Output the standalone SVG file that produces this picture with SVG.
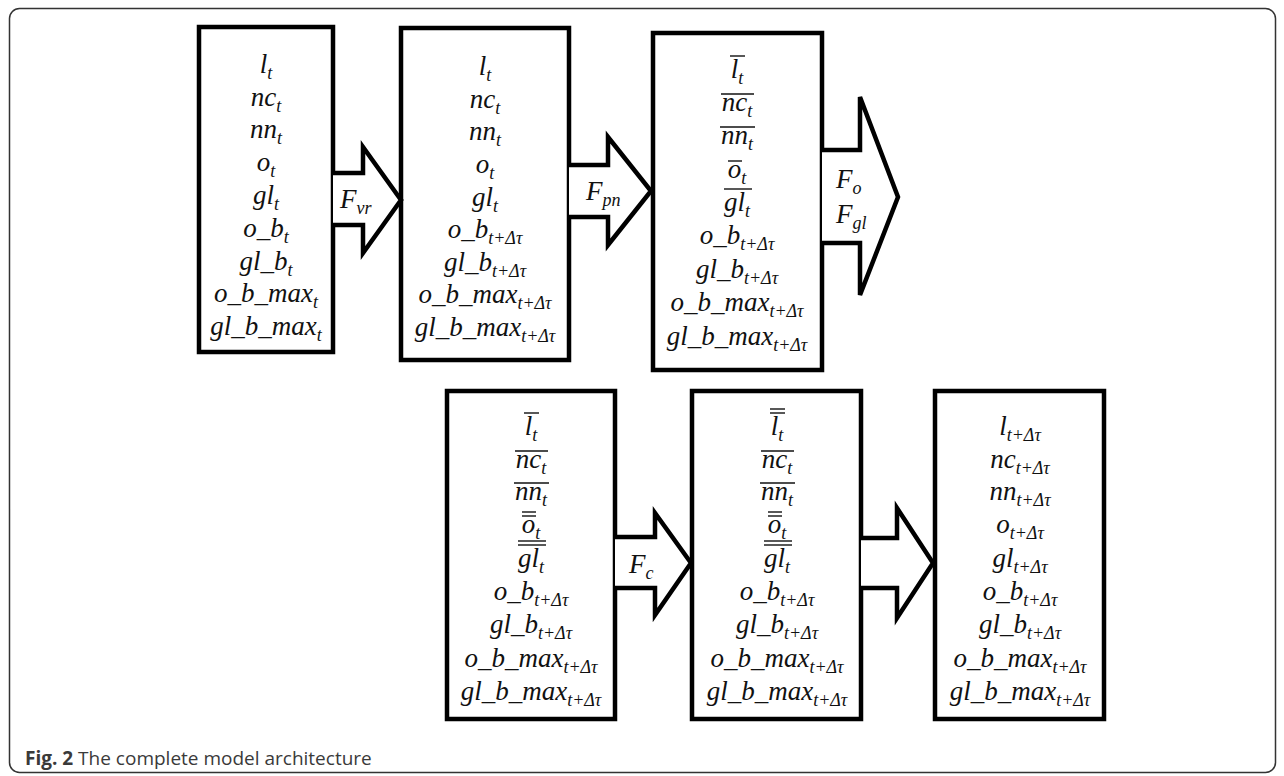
<svg xmlns="http://www.w3.org/2000/svg" width="1284" height="776" viewBox="0 0 1284 776">
<style>
.frame{fill:#fff;stroke:#333;stroke-width:1.5}
.box{fill:#fff;stroke:#000;stroke-width:4.5}
.arr{fill:#fff;stroke:#000;stroke-width:4.5;stroke-linejoin:miter}
.m{font-family:"Liberation Serif",serif;font-style:italic;font-size:27px;fill:#111;text-anchor:middle}
.lab{font-family:"Liberation Serif",serif;font-style:italic;font-size:27px;fill:#111}
.s{font-size:18px}
.bar{stroke:#111;stroke-width:1.4}
.cap{font-family:"Open Sans",sans-serif;font-size:19px;fill:#3a3a3a}
</style>
<rect class="frame" x="9.5" y="8.5" width="1266" height="764" rx="10"/>

<g id="box1">
<rect class="box" x="199" y="27" width="134" height="325"/>
<text class="m" x="266" y="73">l<tspan class="s" dy="6">t</tspan></text>
<text class="m" x="266" y="106">nc<tspan class="s" dy="6">t</tspan></text>
<text class="m" x="266" y="138">nn<tspan class="s" dy="6">t</tspan></text>
<text class="m" x="266" y="171">o<tspan class="s" dy="6">t</tspan></text>
<text class="m" x="266" y="204">gl<tspan class="s" dy="6">t</tspan></text>
<text class="m" x="266" y="237">o_b<tspan class="s" dy="6">t</tspan></text>
<text class="m" x="266" y="270">gl_b<tspan class="s" dy="6">t</tspan></text>
<text class="m" x="266" y="302">o_b_max<tspan class="s" dy="6">t</tspan></text>
<text class="m" x="266" y="335">gl_b_max<tspan class="s" dy="6">t</tspan></text>
</g>

<g id="box2">
<rect class="box" x="401" y="28" width="168" height="332"/>
<text class="m" x="485" y="75">l<tspan class="s" dy="6">t</tspan></text>
<text class="m" x="485" y="108">nc<tspan class="s" dy="6">t</tspan></text>
<text class="m" x="485" y="140">nn<tspan class="s" dy="6">t</tspan></text>
<text class="m" x="485" y="173">o<tspan class="s" dy="6">t</tspan></text>
<text class="m" x="485" y="206">gl<tspan class="s" dy="6">t</tspan></text>
<text class="m" x="485" y="238">o_b<tspan class="s" dy="6">t+Δτ</tspan></text>
<text class="m" x="485" y="271">gl_b<tspan class="s" dy="6">t+Δτ</tspan></text>
<text class="m" x="485" y="303">o_b_max<tspan class="s" dy="6">t+Δτ</tspan></text>
<text class="m" x="485" y="336">gl_b_max<tspan class="s" dy="6">t+Δτ</tspan></text>
</g>

<g id="box3">
<rect class="box" x="653" y="33" width="169" height="337"/>
<text class="m" x="737" y="78">l<tspan class="s" dy="6">t</tspan></text>
<text class="m" x="737" y="111">nc<tspan class="s" dy="6">t</tspan></text>
<text class="m" x="737" y="144">nn<tspan class="s" dy="6">t</tspan></text>
<text class="m" x="737" y="178">o<tspan class="s" dy="6">t</tspan></text>
<text class="m" x="737" y="211">gl<tspan class="s" dy="6">t</tspan></text>
<text class="m" x="737" y="244">o_b<tspan class="s" dy="6">t+Δτ</tspan></text>
<text class="m" x="737" y="278">gl_b<tspan class="s" dy="6">t+Δτ</tspan></text>
<text class="m" x="737" y="311">o_b_max<tspan class="s" dy="6">t+Δτ</tspan></text>
<text class="m" x="737" y="345">gl_b_max<tspan class="s" dy="6">t+Δτ</tspan></text>
<line class="bar" x1="730" y1="56" x2="745" y2="56"/>
<line class="bar" x1="721" y1="94" x2="754" y2="94"/>
<line class="bar" x1="720" y1="127" x2="755" y2="127"/>
<line class="bar" x1="728" y1="161" x2="742" y2="161"/>
<line class="bar" x1="724" y1="189" x2="752" y2="189"/>
</g>

<g id="box4">
<rect class="box" x="447" y="391" width="168" height="328"/>
<text class="m" x="531" y="435">l<tspan class="s" dy="6">t</tspan></text>
<text class="m" x="531" y="468">nc<tspan class="s" dy="6">t</tspan></text>
<text class="m" x="531" y="500">nn<tspan class="s" dy="6">t</tspan></text>
<text class="m" x="531" y="533">o<tspan class="s" dy="6">t</tspan></text>
<text class="m" x="531" y="567">gl<tspan class="s" dy="6">t</tspan></text>
<text class="m" x="531" y="600">o_b<tspan class="s" dy="6">t+Δτ</tspan></text>
<text class="m" x="531" y="633">gl_b<tspan class="s" dy="6">t+Δτ</tspan></text>
<text class="m" x="531" y="667">o_b_max<tspan class="s" dy="6">t+Δτ</tspan></text>
<text class="m" x="531" y="700">gl_b_max<tspan class="s" dy="6">t+Δτ</tspan></text>
<line class="bar" x1="524" y1="413" x2="539" y2="413"/>
<line class="bar" x1="515" y1="451" x2="548" y2="451"/>
<line class="bar" x1="514" y1="483" x2="549" y2="483"/>
<line class="bar" x1="522" y1="512" x2="536" y2="512"/>
<line class="bar" x1="522" y1="516" x2="536" y2="516"/>
<line class="bar" x1="518" y1="541" x2="546" y2="541"/>
<line class="bar" x1="518" y1="545" x2="546" y2="545"/>
</g>

<g id="box5">
<rect class="box" x="692" y="391" width="169" height="328"/>
<text class="m" x="777" y="435">l<tspan class="s" dy="6">t</tspan></text>
<text class="m" x="777" y="468">nc<tspan class="s" dy="6">t</tspan></text>
<text class="m" x="777" y="500">nn<tspan class="s" dy="6">t</tspan></text>
<text class="m" x="777" y="533">o<tspan class="s" dy="6">t</tspan></text>
<text class="m" x="777" y="567">gl<tspan class="s" dy="6">t</tspan></text>
<text class="m" x="777" y="600">o_b<tspan class="s" dy="6">t+Δτ</tspan></text>
<text class="m" x="777" y="633">gl_b<tspan class="s" dy="6">t+Δτ</tspan></text>
<text class="m" x="777" y="667">o_b_max<tspan class="s" dy="6">t+Δτ</tspan></text>
<text class="m" x="777" y="700">gl_b_max<tspan class="s" dy="6">t+Δτ</tspan></text>
<line class="bar" x1="770" y1="409" x2="785" y2="409"/>
<line class="bar" x1="770" y1="413" x2="785" y2="413"/>
<line class="bar" x1="761" y1="451" x2="794" y2="451"/>
<line class="bar" x1="760" y1="483" x2="795" y2="483"/>
<line class="bar" x1="768" y1="512" x2="782" y2="512"/>
<line class="bar" x1="768" y1="516" x2="782" y2="516"/>
<line class="bar" x1="764" y1="541" x2="792" y2="541"/>
<line class="bar" x1="764" y1="545" x2="792" y2="545"/>
</g>

<g id="box6">
<rect class="box" x="935" y="391" width="169" height="328"/>
<text class="m" x="1020" y="435">l<tspan class="s" dy="6">t+Δτ</tspan></text>
<text class="m" x="1020" y="468">nc<tspan class="s" dy="6">t+Δτ</tspan></text>
<text class="m" x="1020" y="500">nn<tspan class="s" dy="6">t+Δτ</tspan></text>
<text class="m" x="1020" y="533">o<tspan class="s" dy="6">t+Δτ</tspan></text>
<text class="m" x="1020" y="567">gl<tspan class="s" dy="6">t+Δτ</tspan></text>
<text class="m" x="1020" y="600">o_b<tspan class="s" dy="6">t+Δτ</tspan></text>
<text class="m" x="1020" y="633">gl_b<tspan class="s" dy="6">t+Δτ</tspan></text>
<text class="m" x="1020" y="667">o_b_max<tspan class="s" dy="6">t+Δτ</tspan></text>
<text class="m" x="1020" y="700">gl_b_max<tspan class="s" dy="6">t+Δτ</tspan></text>
</g>

<g id="connectors">
<path class="arr" d="M333,173 H363 V147 L401,200 L363,253 V225 H333"/>
<path class="arr" d="M569,165 H608 V137 L651,191 L608,245 V217 H569"/>
<path class="arr" d="M822,150 H860 V97 L898,197 L860,295 V243 H822"/>
<path class="arr" d="M615,537 H655 V513 L691,563 L655,615 V588 H615"/>
<path class="arr" d="M861,538 H897 V508 L933,563 L897,618 V588 H861"/>
<text class="lab" x="340" y="208">F<tspan class="s" dy="6">vr</tspan></text>
<text class="lab" x="586" y="200">F<tspan class="s" dy="6">pn</tspan></text>
<text class="lab" x="836" y="188">F<tspan class="s" dy="6">o</tspan></text>
<text class="lab" x="836" y="223">F<tspan class="s" dy="6">gl</tspan></text>
<text class="lab" x="629" y="573">F<tspan class="s" dy="6">c</tspan></text>
</g>

<text class="cap" x="25" y="765"><tspan font-weight="bold">Fig. 2</tspan> The complete model architecture</text>
</svg>
